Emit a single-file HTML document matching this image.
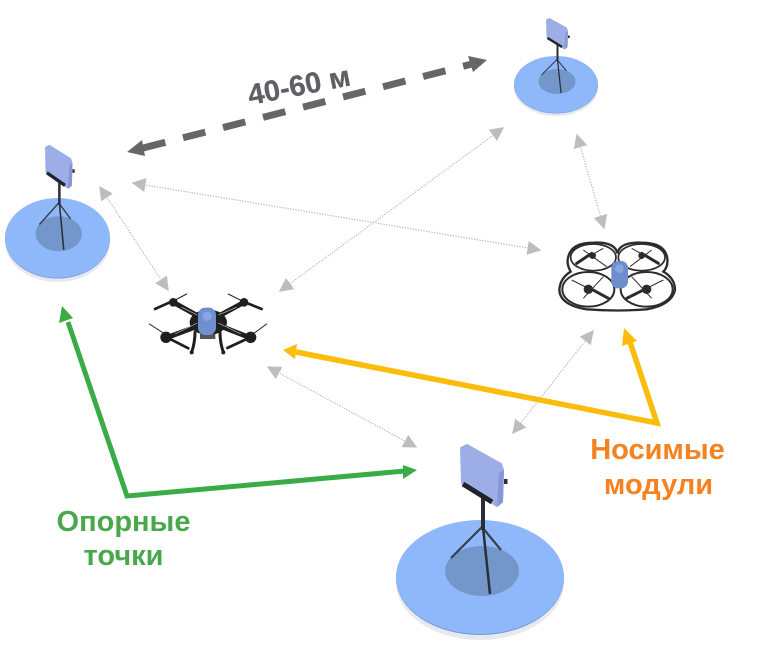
<!DOCTYPE html>
<html><head><meta charset="utf-8"><style>
html,body{margin:0;padding:0;background:#fff}
svg{display:block}
text{font-family:"Liberation Sans",sans-serif;font-weight:700}
</style></head><body>
<svg xmlns="http://www.w3.org/2000/svg" width="758" height="649" viewBox="0 0 758 649">
<defs>
<marker id="g" viewBox="0 0 10 10" refX="9" refY="5" markerWidth="14" markerHeight="14" markerUnits="userSpaceOnUse" orient="auto-start-reverse"><path d="M0 0L10 5L0 10Z" fill="#bdbdbd"/></marker>
<g id="st">
<ellipse cx="480" cy="583" rx="84" ry="57" fill="#e6e9ef"/>
<ellipse cx="480" cy="578" rx="84" ry="57" fill="#6f97d8"/>
<ellipse cx="480" cy="577" rx="84" ry="57" fill="#8fb8fb"/>
<ellipse cx="482" cy="571" rx="37" ry="25" fill="#7497cb"/>
<path d="M483 527L490 594" fill="none" stroke="#2b2e36" stroke-width="2.500"/>
<path d="M451 558L482 527L501 550" fill="none" stroke="#3a3f4a" stroke-width="2.200"/>
<path d="M483 497V530" stroke="#2b2e36" stroke-width="4"/>
<path d="M461 448L467 445L501 464L503 470L502 502L497 506L462 483Z" fill="#9dade6" stroke="#9dade6" stroke-width="2" stroke-linejoin="round"/>
<path d="M497 507L503 502L504 470L499 473Z" fill="#8797d6"/>
<path d="M463 484L492 502" stroke="#20232c" stroke-width="5"/>
<rect x="504" y="479" width="3.500" height="5" fill="#2b2e36"/>
</g>
</defs>
<rect width="758" height="649" fill="#fff"/>

<use href="#st" transform="translate(316,-204) scale(.5)"/>
<use href="#st" transform="translate(-242.500,-166) scale(.625,.7)"/>
<use href="#st"/>

<g fill="none" stroke="#a8a8a8" stroke-width="1" stroke-dasharray="1.200 1.500" marker-start="url(#g)" marker-end="url(#g)">
<line x1="100" y1="187" x2="168" y2="290"/>
<line x1="133" y1="183" x2="540" y2="250"/>
<line x1="503" y1="128" x2="280" y2="291"/>
<line x1="577" y1="135" x2="604" y2="228"/>
<line x1="268" y1="367" x2="416" y2="447"/>
<line x1="593" y1="331" x2="513" y2="433"/>
</g>

<line x1="143" y1="148" x2="474" y2="63.500" stroke="#666" stroke-width="7" stroke-dasharray="23 18.300"/>
<path d="M127 152L142 140L145 156Z M487 60L468 56L473 72Z" fill="#666"/>
<text transform="translate(250,105) rotate(-11)" font-size="29" fill="#5f6065" stroke="#5f6065" stroke-width=".3">40-60 м</text>

<path d="M68 322L127 496L405 471" fill="none" stroke="#3aac45" stroke-width="5"/>
<path d="M62 306L73 318L59 323Z M417 470L403 465L403 479Z" fill="#3aac45"/>
<path d="M296 352L657 423L630 342" fill="none" stroke="#fbbc0b" stroke-width="5.500"/>
<path d="M283 350L297 344L295 359Z M624 328L637 341L622 346Z" fill="#fbbc0b"/>

<text x="123.500" y="531" font-size="29" text-anchor="middle" fill="#4aa84c">Опорные</text>
<text x="123.500" y="565" font-size="29" text-anchor="middle" fill="#4aa84c">точки</text>
<text x="657.500" y="459" font-size="29" text-anchor="middle" fill="#f58220">Носимые</text>
<text x="658.500" y="494" font-size="29" text-anchor="middle" fill="#f58220">модули</text>

<g transform="translate(140,279) scale(.3333)">
<g fill="none" stroke="#1f1f1f" stroke-linecap="round">
<path d="M100 70L190 120M312 70L220 120M75 178L190 135M335 178L225 135" stroke-width="15"/>
<path d="M140 45L100 66M265 45L310 68M28 135L75 165M380 135L335 168" stroke-width="3"/>
<path d="M45 90L100 65M310 68L365 90M90 180L145 208M320 180L262 207" stroke-width="8"/>
<path d="M165 160Q165 190 155 220M240 160Q240 190 250 220" stroke-width="9"/>
</g>
<circle cx="100" cy="70" r="13" fill="#1f1f1f"/><circle cx="312" cy="70" r="13" fill="#1f1f1f"/>
<circle cx="78" cy="175" r="17" fill="#1f1f1f"/><circle cx="332" cy="175" r="17" fill="#1f1f1f"/>
<circle cx="155" cy="220" r="6" fill="#1f1f1f"/><circle cx="250" cy="220" r="6" fill="#1f1f1f"/>
<ellipse cx="205" cy="130" rx="56" ry="38" fill="#1f1f1f"/>
<path d="M105 165L172 132M303 165L235 132M125 85L172 108M290 85L235 108" stroke="#cfcfcf" stroke-width="2" fill="none"/>
<rect x="180" y="165" width="46" height="15" fill="#55555b"/>
<rect x="174" y="86" width="54" height="82" rx="22" fill="#6f8fd0"/>
<circle cx="201" cy="112" r="14" fill="#88a5df"/>
</g>

<g transform="translate(540,220) scale(.3333)">
<g fill="none" stroke="#2c2c2c">
<path d="M160 68Q225 65 232 100Q240 65 305 68Q375 68 382 115Q385 140 370 155Q405 175 405 210Q395 255 320 268Q232 275 140 268Q60 255 58 210Q60 175 92 155Q78 130 85 110Q95 68 160 68Z" stroke-width="7"/>
<ellipse cx="160" cy="112" rx="68" ry="40" stroke-width="5"/>
<ellipse cx="305" cy="112" rx="70" ry="40" stroke-width="5"/>
<ellipse cx="145" cy="208" rx="78" ry="52" stroke-width="6"/>
<ellipse cx="320" cy="208" rx="78" ry="52" stroke-width="6"/>
<path d="M110 130L190 85M130 90L200 140M275 85L355 130M270 140L335 90M95 180L205 235M190 170L130 235M370 180L260 235M275 170L335 235" stroke-width="3"/>
<path d="M110 130L155 100M355 130L305 100M150 205L205 235M260 235L320 205" stroke-width="9" stroke-linecap="round"/>
<circle cx="158" cy="107" r="10" fill="#2c2c2c" stroke="none"/><circle cx="305" cy="107" r="10" fill="#2c2c2c" stroke="none"/>
<circle cx="145" cy="208" r="14" fill="#2c2c2c" stroke="none"/><circle cx="320" cy="208" r="14" fill="#2c2c2c" stroke="none"/>
</g>
<rect x="214" y="123" width="50" height="82" rx="20" fill="#6f8ccb"/>
<circle cx="238" cy="146" r="13" fill="#8aa5de"/>
</g>
</svg>
</body></html>
